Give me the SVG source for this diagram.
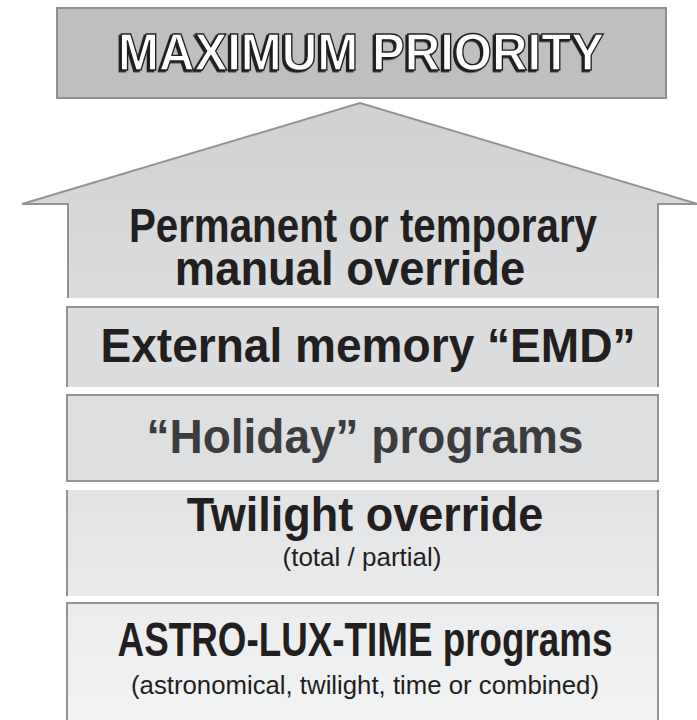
<svg xmlns="http://www.w3.org/2000/svg" width="697" height="720" viewBox="0 0 697 720">
<defs>
<linearGradient id="gArrow" x1="0" y1="0" x2="0" y2="1"><stop offset="0" stop-color="#cfd0d2"/><stop offset="1" stop-color="#dcdddf"/></linearGradient>
<linearGradient id="gTw" x1="0" y1="0" x2="0" y2="1"><stop offset="0" stop-color="#e1e2e4"/><stop offset="1" stop-color="#eaebec"/></linearGradient>
<linearGradient id="gAs" x1="0" y1="0" x2="0" y2="1"><stop offset="0" stop-color="#ebecee"/><stop offset="1" stop-color="#f2f3f3"/></linearGradient>
<filter id="sh" x="-5%" y="-20%" width="110%" height="140%"><feDropShadow dx="-2" dy="1.5" stdDeviation="0" flood-color="#231f20" flood-opacity="1"/></filter>
</defs>
<style>
.bd{fill:none;stroke:#939395;stroke-width:2}
.t{font-family:"Liberation Sans",Arial,sans-serif;font-weight:bold;font-size:48px;fill:#231f20;text-anchor:middle}
.s{font-family:"Liberation Sans",Arial,sans-serif;fill:#231f20;text-anchor:middle}
.mx{font-family:"Liberation Sans",Arial,sans-serif;font-weight:bold;font-size:51px;text-anchor:middle;fill:#ffffff;stroke:#231f20;stroke-width:1.4}
</style>
<g id="max">
<rect x="57" y="8" width="609" height="90" fill="#bebfc1" stroke="#8f9092" stroke-width="2"/>
<text class="mx" x="361" y="70" textLength="486" lengthAdjust="spacingAndGlyphs" filter="url(#sh)">MAXIMUM PRIORITY</text>
</g>
<g id="manual">
<polygon points="68,298 68,204 22,204 360,103 698,204 658,204 658,298" fill="url(#gArrow)"/>
<polyline class="bd" points="68,298 68,204 22,204 360,103 698,204 658,204 658,298"/>
<text class="t" transform="scale(0.84,1)" x="432.1" y="242" font-size="47">Permanent or temporary</text>
<text class="t" transform="scale(0.945,1)" x="370.4" y="285" font-size="47">manual override</text>
</g>
<g id="emd">
<rect x="67" y="307" width="591" height="80" fill="#dcdddf"/>
<polyline class="bd" points="67,387 67,307 658,307 658,387"/>
<text class="t" transform="scale(0.96,1)" x="383.3" y="362">External memory “EMD”</text>
</g>
<g id="holiday">
<rect x="67" y="395" width="591" height="86" class="bd" style="fill:#dedfe1"/>
<text class="t" transform="scale(0.958,1)" x="381" y="453" style="fill:#3c3c3e">“Holiday” programs</text>
</g>
<g id="twilight">
<rect x="67" y="490" width="591" height="106" fill="url(#gTw)"/>
<line class="bd" x1="67" y1="490" x2="67" y2="596"/>
<line class="bd" x1="658" y1="490" x2="658" y2="596"/>
<text class="t" transform="scale(0.9375,1)" x="389.3" y="531">Twilight override</text>
<text class="s" x="362" y="566" font-size="26">(total / partial)</text>
</g>
<g id="astro">
<rect x="67" y="603" width="591" height="120" fill="url(#gAs)"/>
<polyline class="bd" points="67,722 67,603 658,603 658,722"/>
<text class="t" transform="scale(0.767,1)" x="475.9" y="656">ASTRO-LUX-TIME programs</text>
<text class="s" x="365" y="694" font-size="25" textLength="468" lengthAdjust="spacingAndGlyphs">(astronomical, twilight, time or combined)</text>
</g>
<g id="connectors"/>
</svg>
